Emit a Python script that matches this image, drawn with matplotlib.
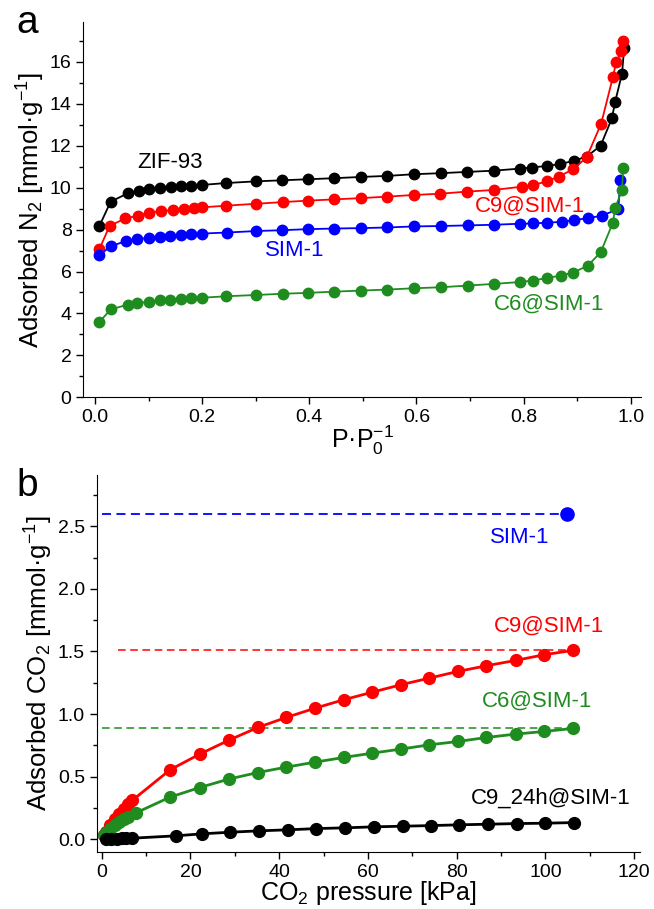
import matplotlib
matplotlib.use("Agg")
import matplotlib.pyplot as plt
from matplotlib.ticker import MultipleLocator

plt.rcParams['font.family'] = ['Liberation Sans', 'DejaVu Sans']
plt.rcParams['mathtext.fontset'] = 'custom'
plt.rcParams['mathtext.rm'] = 'Liberation Sans'
plt.rcParams['mathtext.it'] = 'Liberation Sans'
plt.rcParams['mathtext.default'] = 'regular'

# ---- panel a: N2 isotherms (P/P0 vs mmol/g) ----
zif93_x = [0.008, 0.029, 0.061, 0.082, 0.101, 0.122, 0.142, 0.161, 0.18, 0.2, 0.245, 0.3, 0.349,
           0.397, 0.446, 0.496, 0.546, 0.595, 0.646, 0.694, 0.745, 0.794, 0.816, 0.844, 0.868,
           0.895, 0.918, 0.944, 0.965, 0.971, 0.984, 0.988]
zif93_y = [8.17, 9.33, 9.73, 9.86, 9.94, 10.0, 10.05, 10.08, 10.1, 10.13, 10.22, 10.3, 10.35,
           10.4, 10.45, 10.51, 10.56, 10.64, 10.69, 10.75, 10.81, 10.91, 10.96, 11.04, 11.12,
           11.29, 11.48, 12.0, 13.3, 14.08, 15.44, 16.67]

c9_x = [0.008, 0.027, 0.056, 0.08, 0.1, 0.123, 0.146, 0.166, 0.185, 0.2, 0.245, 0.3, 0.35,
        0.397, 0.446, 0.496, 0.545, 0.595, 0.644, 0.694, 0.745, 0.798, 0.817, 0.843, 0.866,
        0.893, 0.918, 0.945, 0.967, 0.973, 0.983, 0.986]
c9_y = [7.07, 8.17, 8.53, 8.66, 8.79, 8.88, 8.93, 9.0, 9.03, 9.06, 9.14, 9.23, 9.31,
        9.38, 9.44, 9.5, 9.57, 9.65, 9.71, 9.81, 9.89, 10.05, 10.11, 10.3, 10.53,
        10.88, 11.45, 13.05, 15.28, 15.98, 16.5, 16.99]

sim1_x = [0.008, 0.03, 0.058, 0.079, 0.1, 0.121, 0.14, 0.16, 0.179, 0.2, 0.247, 0.3, 0.349,
          0.397, 0.446, 0.496, 0.546, 0.595, 0.646, 0.696, 0.745, 0.794, 0.817, 0.844, 0.872,
          0.895, 0.921, 0.946, 0.977, 0.981]
sim1_y = [6.79, 7.21, 7.46, 7.54, 7.61, 7.66, 7.7, 7.74, 7.77, 7.81, 7.86, 7.93, 7.97,
          8.02, 8.05, 8.07, 8.1, 8.15, 8.17, 8.2, 8.23, 8.28, 8.29, 8.33, 8.37,
          8.45, 8.55, 8.66, 8.98, 10.37]

c6_x = [0.008, 0.029, 0.061, 0.079, 0.1, 0.121, 0.14, 0.161, 0.18, 0.2, 0.245, 0.3, 0.35,
        0.397, 0.446, 0.496, 0.546, 0.595, 0.646, 0.696, 0.745, 0.794, 0.817, 0.844, 0.87,
        0.893, 0.92, 0.944, 0.967, 0.971, 0.984, 0.986]
c6_y = [3.59, 4.19, 4.42, 4.5, 4.55, 4.63, 4.66, 4.69, 4.72, 4.75, 4.82, 4.88, 4.94,
        4.98, 5.04, 5.09, 5.14, 5.2, 5.25, 5.33, 5.41, 5.5, 5.57, 5.69, 5.81,
        5.95, 6.28, 6.91, 8.33, 9.01, 9.89, 10.96]

# ---- panel b: CO2 isotherms (kPa vs mmol/g) ----
co2_c9_x = [0.5, 1, 2, 3, 4, 5, 6, 6.9, 15.4, 22.1, 28.6, 35.2, 41.6, 48.1, 54.5, 61.0, 67.4,
            73.8, 80.3, 86.7, 93.3, 99.7, 106.2]
co2_c9_y = [0.035, 0.06, 0.11, 0.16, 0.2, 0.24, 0.28, 0.31, 0.554, 0.68, 0.79, 0.893, 0.973,
            1.047, 1.114, 1.175, 1.234, 1.287, 1.341, 1.386, 1.429, 1.474, 1.509]

co2_c6_x = [0.5, 1, 2, 3, 4, 5, 6, 7.7, 15.4, 22.1, 28.6, 35.2, 41.6, 48.1, 54.5, 61.0, 67.4,
            73.8, 80.3, 86.7, 93.3, 99.7, 106.2]
co2_c6_y = [0.035, 0.05, 0.08, 0.11, 0.135, 0.16, 0.18, 0.21, 0.336, 0.413, 0.48, 0.533, 0.576,
            0.616, 0.653, 0.688, 0.72, 0.754, 0.781, 0.813, 0.84, 0.861, 0.885]

co2_c924_x = [1.1, 2.2, 3.4, 4.5, 5.6, 6.8, 16.7, 22.6, 29.0, 35.5, 41.9, 48.4, 54.9, 61.4,
              67.8, 74.3, 80.6, 87.0, 93.6, 99.9, 106.4]
co2_c924_y = [0.0, 0.003, 0.005, 0.006, 0.007, 0.008, 0.027, 0.043, 0.056, 0.067, 0.075, 0.085,
              0.091, 0.099, 0.104, 0.109, 0.115, 0.12, 0.125, 0.128, 0.133]

co2_sim1_x = [104.9]
co2_sim1_y = [2.60]

# dashed guide lines (x start, x end, level)
guide_sim1 = (0.0, 104.9, 2.60)
guide_c9 = (3.6, 106.2, 1.509)
guide_c6 = (0.0, 106.2, 0.885)

green = '#1e8c1e'


def style_axes(ax):
    ax.spines['top'].set_visible(False)
    ax.spines['right'].set_visible(False)
    ax.tick_params(which='both', direction='out', labelsize=14, width=1)
    ax.tick_params(which='major', length=5)
    ax.tick_params(which='minor', length=3)


fig = plt.figure(figsize=(6.54, 9.09), dpi=100)

# panel a
ax1 = fig.add_axes([0.1274, 0.5629, 0.8532, 0.4129])
ax1.plot(zif93_x, zif93_y, 'o-', color='k', ms=7.5, lw=1.3)
ax1.plot(c9_x, c9_y, 'o-', color='#ff0000', ms=7.5, lw=1.3)
ax1.plot(sim1_x, sim1_y, 'o-', color='#0000ff', ms=7.5, lw=1.3)
ax1.plot(c6_x, c6_y, 'o-', color=green, ms=7.5, lw=1.3)
ax1.set_xlim(-0.022, 1.02)
ax1.set_ylim(0, 17.9)
ax1.xaxis.set_major_locator(MultipleLocator(0.2))
ax1.xaxis.set_minor_locator(MultipleLocator(0.1))
ax1.yaxis.set_major_locator(MultipleLocator(2))
ax1.yaxis.set_minor_locator(MultipleLocator(1))
ax1.set_xticks([0, 0.2, 0.4, 0.6, 0.8, 1.0], ['0.0', '0.2', '0.4', '0.6', '0.8', '1.0'])
style_axes(ax1)
ax1.set_xlabel('P·P$_0^{-1}$', fontsize=18, labelpad=-2)
ax1.set_ylabel('Adsorbed N$_2$ [mmol·g$^{-1}$]', fontsize=18.5, labelpad=2)
ax1.text(0.14, 11.2, 'ZIF-93', color='k', fontsize=16, ha='center', va='center')
ax1.text(0.813, 9.1, 'C9@SIM-1', color='#ff0000', fontsize=16, ha='center', va='center')
ax1.text(0.372, 6.99, 'SIM-1', color='#0000ff', fontsize=16, ha='center', va='center')
ax1.text(0.848, 4.43, 'C6@SIM-1', color=green, fontsize=16, ha='center', va='center')
fig.text(0.025, 0.975, 'a', fontsize=28, ha='left', va='center')

# panel b
ax2 = fig.add_axes([0.1479, 0.0630, 0.8307, 0.4144])
ax2.hlines(guide_sim1[2], guide_sim1[0], guide_sim1[1], colors='#0000ff', linestyles=(0, (5, 3)), lw=1.3)
ax2.hlines(guide_c9[2], guide_c9[0], guide_c9[1], colors='#ff0000', linestyles=(0, (5, 3)), lw=1.1)
ax2.hlines(guide_c6[2], guide_c6[0], guide_c6[1], colors=green, linestyles=(0, (5, 3)), lw=1.1)
ax2.plot(co2_c9_x, co2_c9_y, 'o-', color='#ff0000', ms=8.5, lw=2)
ax2.plot(co2_c6_x, co2_c6_y, 'o-', color=green, ms=8.5, lw=2)
ax2.plot(co2_c924_x, co2_c924_y, 'o-', color='k', ms=8.5, lw=2)
ax2.plot(co2_sim1_x, co2_sim1_y, 'o', color='#0000ff', ms=9.5)
ax2.set_xlim(-1.1, 121.3)
ax2.set_ylim(-0.1, 2.91)
ax2.xaxis.set_major_locator(MultipleLocator(20))
ax2.xaxis.set_minor_locator(MultipleLocator(10))
ax2.yaxis.set_major_locator(MultipleLocator(0.5))
ax2.yaxis.set_minor_locator(MultipleLocator(0.25))
ax2.set_yticks([0, 0.5, 1.0, 1.5, 2.0, 2.5], ['0.0', '0.5', '1.0', '1.5', '2.0', '2.5'])
style_axes(ax2)
ax2.set_xlabel('CO$_2$ pressure [kPa]', fontsize=18, labelpad=-1)
ax2.set_ylabel('Adsorbed CO$_2$ [mmol·g$^{-1}$]', fontsize=18.5, labelpad=2)
ax2.text(94.1, 2.41, 'SIM-1', color='#0000ff', fontsize=16, ha='center', va='center')
ax2.text(100.7, 1.70, 'C9@SIM-1', color='#ff0000', fontsize=16, ha='center', va='center')
ax2.text(98.0, 1.10, 'C6@SIM-1', color=green, fontsize=16, ha='center', va='center')
ax2.text(101.3, 0.33, 'C9_24h@SIM-1', color='k', fontsize=16, ha='center', va='center')
fig.text(0.025, 0.465, 'b', fontsize=28, ha='left', va='center')

plt.savefig('out.png', dpi=100)
